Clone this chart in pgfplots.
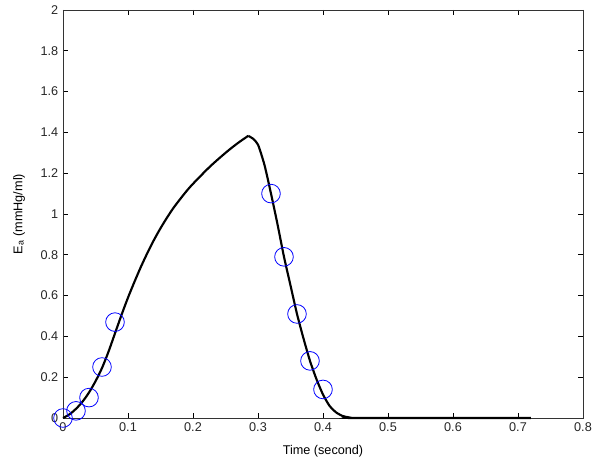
\documentclass[border=0pt]{standalone}
\usepackage{fontspec}
\setmainfont{Liberation Sans}
\usepackage{pgfplots}
\pgfplotsset{compat=1.18}

\begin{document}
\begin{tikzpicture}
% invisible frame fixes the page to 600x467 px at 0.75pt/px
\path (-47.25pt,-36.75pt) rectangle (402.75pt,313.5pt);
\begin{axis}[
  at={(0,0)}, anchor=origin,
  scale only axis,
  width=390pt, height=306pt,
  xmin=0, xmax=0.8, ymin=0, ymax=2,
  xtick={0,0.1,...,0.8},
  ytick={0,0.2,...,2},
  xticklabels={0,0.1,0.2,0.3,0.4,0.5,0.6,0.7,0.8},
  yticklabels={0,0.2,0.4,0.6,0.8,1,1.2,1.4,1.6,1.8,2},
  tick align=inside,
  major tick length=4pt,
  tick style={black, line width=0.6pt},
  axis line style={black!80, line width=0.6pt},
  every tick label/.append style={font=\fontsize{9.5}{11}\selectfont, text=black!85},
  /pgf/number format/assume math mode=true,
  xlabel={Time (second)},
  ylabel={E\textsubscript{a} (mmHg/ml)},
  label style={font=\fontsize{9.5}{11}\selectfont},
  xlabel style={at={(0.5,0)}, anchor=north, yshift=-17pt},
  ylabel style={at={(0,0.5)}, anchor=south, yshift=25pt},
  clip=false,
]
% rising limb
\addplot[black, line width=1.6pt, smooth, tension=0.5] coordinates {
  (0,0) (0.01,0.018) (0.02,0.045) (0.03,0.08) (0.04,0.125) (0.05,0.18)
  (0.06,0.245) (0.07,0.325) (0.08,0.415) (0.09,0.505) (0.10,0.59)
  (0.11,0.668) (0.12,0.742) (0.13,0.81) (0.14,0.873) (0.15,0.93)
  (0.16,0.982) (0.17,1.03) (0.18,1.072) (0.19,1.112) (0.20,1.148)
  (0.226,1.232) (0.252,1.305) (0.27,1.35) (0.285,1.383)
};
% falling limb and tail
\addplot[black, line width=1.6pt, smooth, tension=0.4] coordinates {
  (0.285,1.383) (0.292,1.37) (0.30,1.34) (0.31,1.24) (0.32,1.10) (0.33,0.95)
  (0.34,0.79) (0.35,0.65) (0.36,0.51) (0.37,0.39) (0.38,0.28) (0.39,0.19)
  (0.40,0.115) (0.41,0.06) (0.42,0.028) (0.43,0.01) (0.44,0.003) (0.45,0)
  (0.72,0)
};
% measured points
\addplot[only marks, mark=o, mark size=7pt, blue, mark options={line width=0.6pt}] coordinates {
  (0,0) (0.02,0.035) (0.04,0.10) (0.06,0.25) (0.08,0.47)
  (0.32,1.10) (0.34,0.79) (0.36,0.51) (0.38,0.28) (0.40,0.14)
};
\end{axis}
\end{tikzpicture}
\end{document}
